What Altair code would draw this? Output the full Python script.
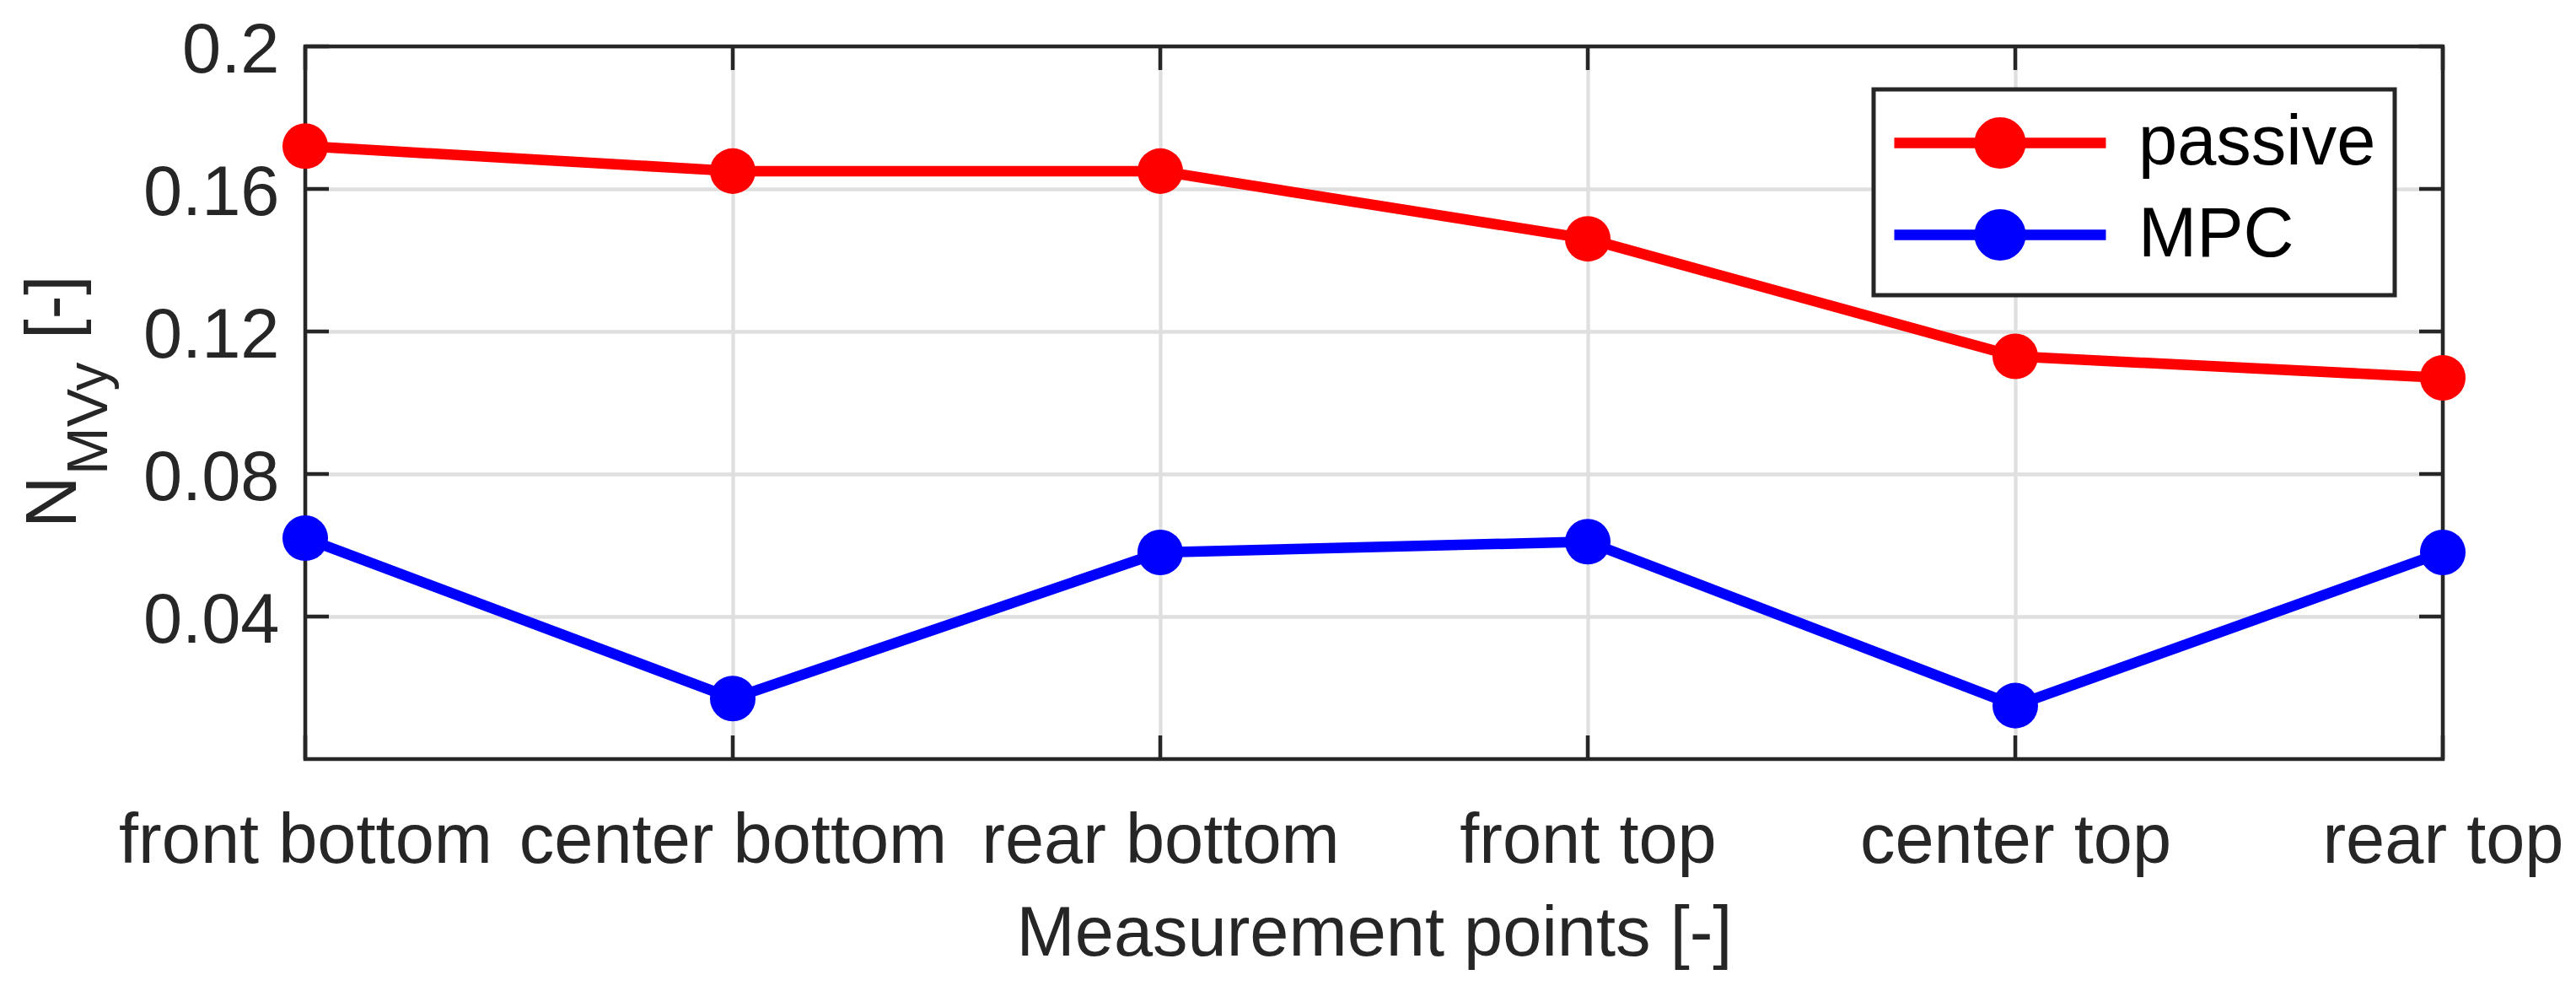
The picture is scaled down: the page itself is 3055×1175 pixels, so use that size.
import altair as alt
import pandas as pd

# ---- data ----
categories = ["front bottom", "center bottom", "rear bottom", "front top", "center top", "rear top"]
passive = [0.172, 0.165, 0.165, 0.146, 0.113, 0.107]
mpc = [0.062, 0.017, 0.058, 0.061, 0.015, 0.058]
series_names = ["passive", "MPC"]
series_colors = ["#ff0000", "#0000ff"]
y_ticks = [0.04, 0.08, 0.12, 0.16, 0.2]
x_title = "Measurement points [-]"
y_title_parts = ["N", "MVy", "[-]"]

rows = []
for name, vals in zip(series_names, [passive, mpc]):
    for i, (c, v) in enumerate(zip(categories, vals)):
        rows.append({"point": c, "value": v, "series": name, "idx": i})
df = pd.DataFrame(rows)

W, H = 2535, 845
FONT = "Liberation Sans"
DARK = "#262626"
FS = 83
TICK = 28

x_scale = alt.Scale(type="point", domain=categories, padding=0)
x_enc = alt.X("point:N", sort=categories, scale=x_scale,
              axis=alt.Axis(title=x_title, labelAngle=0, labelAlign="center", ticks=False,
                            tickSize=0, domain=False, grid=True, labelPadding=122,
                            labelBaseline="alphabetic", labelOverlap=False, labelFlush=False,
                            labelBound=False, labelLimit=0,
                            titleY=232, titleBaseline="alphabetic"))
y_enc = alt.Y("value:Q", scale=alt.Scale(domain=[0, 0.2], nice=False, zero=False),
              axis=alt.Axis(title=None, values=y_ticks, format="~g", ticks=False, tickSize=0,
                            domain=False, grid=True, labelPadding=31, labelBaseline="middle",
                            labelOffset=5, labelLimit=0))

# legend symbol: line with a solid dot (concentric stroked circles)
s = 24.0
xL, xR = -1.625, 8.833
cx = (xL + xR) / 2
path = f"M{xL},0H{xR}"
for r in [1.01, 0.52, 0.146]:
    path += f"M{cx + r:.3f},0A{r},{r},0,1,1,{cx - r:.3f},0A{r},{r},0,1,1,{cx + r:.3f},0Z"

color_scale = alt.Scale(domain=series_names, range=series_colors)

border = alt.Chart(pd.DataFrame({"b": [0]})).mark_rect(
    fill="transparent", stroke=DARK, strokeWidth=4.5
).encode(x=alt.value(0), x2=alt.value(W), y=alt.value(0), y2=alt.value(H))

ytick_df = pd.DataFrame({"value": y_ticks})
ytick_left = alt.Chart(ytick_df).mark_rule(color=DARK, strokeWidth=4.5).encode(
    y=alt.Y("value:Q"), x=alt.value(0), x2=alt.value(TICK))
ytick_right = alt.Chart(ytick_df).mark_rule(color=DARK, strokeWidth=4.5).encode(
    y=alt.Y("value:Q"), x=alt.value(W - TICK), x2=alt.value(W))

xtick_df = pd.DataFrame({"point": categories})
xtick_bottom = alt.Chart(xtick_df).mark_rule(color=DARK, strokeWidth=4.5).encode(
    x=alt.X("point:N", sort=categories, scale=x_scale), y=alt.value(H - TICK), y2=alt.value(H))
xtick_top = alt.Chart(xtick_df).mark_rule(color=DARK, strokeWidth=4.5).encode(
    x=alt.X("point:N", sort=categories, scale=x_scale), y=alt.value(0), y2=alt.value(TICK))

lines = alt.Chart(df).mark_line(strokeWidth=12.5, strokeJoin="round").encode(
    x=x_enc, y=y_enc, order="idx:Q",
    color=alt.Color("series:N", scale=color_scale,
                    legend=alt.Legend(title=None, orient="none", legendX=1860, legendY=51,
                                      symbolType=path, symbolSize=s * s * 4,
                                      symbolStrokeWidth=12.5, labelOffset=209,
                                      labelFont=FONT, labelFontSize=FS, labelColor="black",
                                      labelLimit=0, padding=22, rowPadding=10,
                                      strokeColor=DARK, fillColor="white")))
dots = alt.Chart(df).mark_circle(size=2920, opacity=1).encode(
    x=alt.X("point:N", sort=categories, scale=x_scale), y=alt.Y("value:Q"),
    color=alt.Color("series:N", scale=color_scale, legend=None))

def ytext(txt, x, y, size):
    return alt.Chart(pd.DataFrame({"t": [txt]})).mark_text(
        angle=270, align="left", baseline="alphabetic", font=FONT, fontSize=size, color=DARK
    ).encode(text="t:N", x=alt.value(x), y=alt.value(y))

yt1 = ytext(y_title_parts[0], -272, 571, 85)
yt2 = ytext(y_title_parts[1], -235, 508, 68)
yt3 = ytext(y_title_parts[2], -272, 347, 85)

chart = alt.layer(
    border, ytick_left, ytick_right, xtick_bottom, xtick_top, lines, dots, yt1, yt2, yt3
).properties(
    width=W, height=H,
    autosize=alt.AutoSizeParams(type="none"),
    padding={"left": 354, "top": 47, "right": 150, "bottom": 267},
).configure_view(strokeWidth=0).configure_scale(pointPadding=0).configure_axis(
    labelFont=FONT, labelFontSize=FS, labelColor=DARK,
    titleFont=FONT, titleFontSize=FS, titleColor=DARK, titleFontWeight="normal",
    gridColor="#dfdfdf", gridWidth=4.3, gridOpacity=1
).configure_legend(strokeWidth=5)

chart.save("out.html", embed_options={"renderer": "svg", "actions": False})
